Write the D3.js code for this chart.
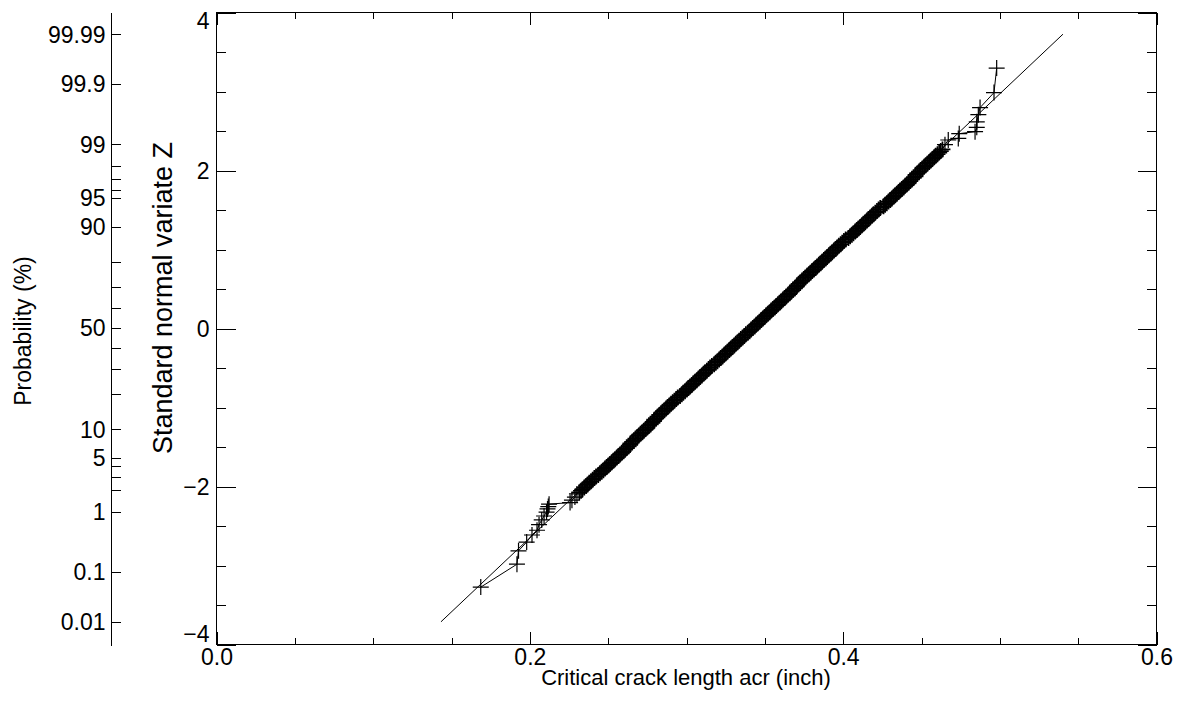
<!DOCTYPE html>
<html>
<head>
<meta charset="utf-8">
<script src="https://cdn.jsdelivr.net/npm/d3@7"></script>
<style>
    body { margin: 0; background: #fff; }
    svg text { font-family: "Liberation Sans", Arial, sans-serif; fill: #000; }
</style>
</head>
<body>
<svg id="chart" width="1188" height="704"></svg>
<script>

// data (z = standard normal variate, acr in inch)

const lowerTailZ   = [-3.28, -2.99, -2.82, -2.71, -2.62, -2.56, -2.49, -2.43, -2.38, -2.33, -2.29, -2.26, -2.23,
                      -2.21, -2.18, -2.14, -2.10];
const lowerTailAcr = [0.1690, 0.1921, 0.1931, 0.1983, 0.2017, 0.2049, 0.2062, 0.2079, 0.2094, 0.2110, 0.2116, 0.2121, 0.2126,
                      0.2260, 0.2272, 0.2291, 0.2304];

const bandZ = [
    -2.08, -2.06, -2.04, -2.02, -2.00, -1.98, -1.96, -1.94, -1.92, -1.90, -1.88, -1.86, -1.84, -1.82, -1.80, -1.78,
    -1.76, -1.74, -1.72, -1.70, -1.68, -1.66, -1.64, -1.62, -1.60, -1.58, -1.56, -1.54, -1.52, -1.50, -1.48, -1.46,
    -1.44, -1.42, -1.40, -1.38, -1.36, -1.34, -1.32, -1.30, -1.28, -1.26, -1.24, -1.22, -1.20, -1.18, -1.16, -1.14,
    -1.12, -1.10, -1.08, -1.06, -1.04, -1.02, -1.00, -0.98, -0.96, -0.94, -0.92, -0.90, -0.88, -0.86, -0.84, -0.82,
    -0.80, -0.78, -0.76, -0.74, -0.72, -0.70, -0.68, -0.66, -0.64, -0.62, -0.60, -0.58, -0.56, -0.54, -0.52, -0.50,
    -0.48, -0.46, -0.44, -0.42, -0.40, -0.38, -0.36, -0.34, -0.32, -0.30, -0.28, -0.26, -0.24, -0.22, -0.20, -0.18,
    -0.16, -0.14, -0.12, -0.10, -0.08, -0.06, -0.04, -0.02, 0.00, 0.02, 0.04, 0.06, 0.08, 0.10, 0.12, 0.14,
    0.16, 0.18, 0.20, 0.22, 0.24, 0.26, 0.28, 0.30, 0.32, 0.34, 0.36, 0.38, 0.40, 0.42, 0.44, 0.46,
    0.48, 0.50, 0.52, 0.54, 0.56, 0.58, 0.60, 0.62, 0.64, 0.66, 0.68, 0.70, 0.72, 0.74, 0.76, 0.78,
    0.80, 0.82, 0.84, 0.86, 0.88, 0.90, 0.92, 0.94, 0.96, 0.98, 1.00, 1.02, 1.04, 1.06, 1.08, 1.10,
    1.12, 1.14, 1.16, 1.18, 1.20, 1.22, 1.24, 1.26, 1.28, 1.30, 1.32, 1.34, 1.36, 1.38, 1.40, 1.42,
    1.44, 1.46, 1.48, 1.50, 1.52, 1.54, 1.56, 1.58, 1.60, 1.62, 1.64, 1.66, 1.68, 1.70, 1.72, 1.74,
    1.76, 1.78, 1.80, 1.82, 1.84, 1.86, 1.88, 1.90, 1.92, 1.94, 1.96, 1.98, 2.00, 2.02, 2.04, 2.06,
    2.08, 2.10, 2.12, 2.14, 2.16, 2.18, 2.20, 2.22, 2.24, 2.26
];
const bandAcr = [
    0.2319, 0.2330, 0.2340, 0.2351, 0.2362, 0.2372, 0.2383, 0.2394, 0.2404, 0.2415, 0.2426, 0.2440, 0.2451, 0.2462, 0.2473, 0.2483,
    0.2494, 0.2505, 0.2515, 0.2526, 0.2537, 0.2547, 0.2558, 0.2569, 0.2579, 0.2590, 0.2601, 0.2611, 0.2622, 0.2633, 0.2643, 0.2646,
    0.2657, 0.2667, 0.2678, 0.2689, 0.2699, 0.2710, 0.2721, 0.2731, 0.2742, 0.2753, 0.2763, 0.2774, 0.2785, 0.2795, 0.2798, 0.2809,
    0.2819, 0.2830, 0.2841, 0.2851, 0.2862, 0.2873, 0.2883, 0.2894, 0.2905, 0.2915, 0.2926, 0.2937, 0.2947, 0.2962, 0.2973, 0.2983,
    0.2994, 0.3005, 0.3015, 0.3026, 0.3037, 0.3047, 0.3058, 0.3069, 0.3080, 0.3090, 0.3101, 0.3112, 0.3122, 0.3133, 0.3144, 0.3154,
    0.3165, 0.3180, 0.3190, 0.3201, 0.3212, 0.3222, 0.3233, 0.3244, 0.3254, 0.3265, 0.3276, 0.3286, 0.3297, 0.3308, 0.3318, 0.3329,
    0.3340, 0.3350, 0.3361, 0.3372, 0.3382, 0.3395, 0.3406, 0.3416, 0.3427, 0.3438, 0.3448, 0.3459, 0.3470, 0.3480, 0.3491, 0.3502,
    0.3512, 0.3523, 0.3534, 0.3544, 0.3555, 0.3566, 0.3576, 0.3587, 0.3598, 0.3608, 0.3619, 0.3630, 0.3640, 0.3651, 0.3662, 0.3672,
    0.3683, 0.3694, 0.3704, 0.3709, 0.3720, 0.3730, 0.3741, 0.3752, 0.3762, 0.3773, 0.3784, 0.3795, 0.3805, 0.3816, 0.3827, 0.3837,
    0.3848, 0.3859, 0.3869, 0.3880, 0.3891, 0.3901, 0.3912, 0.3923, 0.3933, 0.3944, 0.3955, 0.3965, 0.3976, 0.3987, 0.3997, 0.4008,
    0.4019, 0.4037, 0.4048, 0.4059, 0.4069, 0.4080, 0.4091, 0.4101, 0.4112, 0.4123, 0.4133, 0.4144, 0.4155, 0.4165, 0.4176, 0.4187,
    0.4197, 0.4208, 0.4219, 0.4229, 0.4240, 0.4261, 0.4271, 0.4282, 0.4293, 0.4303, 0.4314, 0.4325, 0.4335, 0.4346, 0.4357, 0.4367,
    0.4378, 0.4389, 0.4399, 0.4410, 0.4421, 0.4431, 0.4442, 0.4453, 0.4464, 0.4466, 0.4477, 0.4488, 0.4498, 0.4509, 0.4520, 0.4530,
    0.4541, 0.4552, 0.4562, 0.4573, 0.4584, 0.4594, 0.4605, 0.4616, 0.4626, 0.4637
];

const upperTailZ   = [2.32, 2.38, 2.40, 2.46, 2.485, 2.54, 2.61, 2.70, 2.79, 2.98, 3.29];
const upperTailAcr = [0.4653, 0.4674, 0.4738, 0.4744, 0.4845, 0.4856, 0.4856, 0.4866, 0.4877, 0.4966, 0.4983];

// fitted normal line (0.01 % .. 99.99 %)
const fitZ   = [-3.719, 3.719];
const fitAcr = [0.1436, 0.5406];

// tick labels
const xMajorTicks = [0.0, 0.2, 0.4, 0.6];
const xTickLabels = ["0.0", "0.2", "0.4", "0.6"];
const zMajorTicks = [-4, -2, 0, 2, 4];
const zTickLabels = ["\u22124", "\u22122", "0", "2", "4"];
const probTicks   = [0.01, 0.1, 1, 2, 3, 4, 5, 10, 20, 30, 40, 50, 60, 70, 80, 90, 95, 96, 97, 98, 99, 99.9, 99.99];
const probLabels  = ["0.01", "0.1", "1", "", "", "", "5", "10", "", "", "", "50", "", "", "", "90", "95", "", "", "", "99", "99.9", "99.99"];

// layout

const plot = { left: 216, right: 1156, top: 12, bottom: 644 };
const probAxisX = 111;
const tickFont = 23;

let svg = d3.select("#chart");

let xScale = d3.scaleLinear()
               .domain([0, 0.6])
               .range([plot.left, plot.right]);
let zScale = d3.scaleLinear()
               .domain([-4, 4])
               .range([plot.bottom, plot.top]);

// inverse normal cdf (Acklam) for the probability axis
function probit(p) {
    const a = [-3.969683028665376e+01, 2.209460984245205e+02, -2.759285104469687e+02,
               1.383577518672690e+02, -3.066479806614716e+01, 2.506628277459239e+00];
    const b = [-5.447609879822406e+01, 1.615858368580409e+02, -1.556989798598866e+02,
               6.680131188771972e+01, -1.328068155288572e+01];
    const c = [-7.784894002430293e-03, -3.223964580411365e-01, -2.400758277161838e+00,
               -2.549732539343734e+00, 4.374664141464968e+00, 2.938163982698783e+00];
    const d = [7.784695709041462e-03, 3.224671290700398e-01, 2.445134137142996e+00,
               3.754408661907416e+00];
    let q, r;
    if (p < 0.02425) {
        q = Math.sqrt(-2 * Math.log(p));
        return (((((c[0]*q + c[1])*q + c[2])*q + c[3])*q + c[4])*q + c[5]) /
               ((((d[0]*q + d[1])*q + d[2])*q + d[3])*q + 1);
    }
    if (p > 1 - 0.02425) {
        q = Math.sqrt(-2 * Math.log(1 - p));
        return -(((((c[0]*q + c[1])*q + c[2])*q + c[3])*q + c[4])*q + c[5]) /
                ((((d[0]*q + d[1])*q + d[2])*q + d[3])*q + 1);
    }
    q = p - 0.5;
    r = q * q;
    return (((((a[0]*r + a[1])*r + a[2])*r + a[3])*r + a[4])*r + a[5]) * q /
           (((((b[0]*r + b[1])*r + b[2])*r + b[3])*r + b[4])*r + 1);
}

function range(start, stop, step) {
    return d3.range(Math.round((stop - start) / step) + 1).map(i => +(start + i * step).toFixed(4));
}

// frame and axes

function drawFrame() {
    svg.append("rect")
       .attr("x", plot.left + 0.5)
       .attr("y", plot.top + 0.5)
       .attr("width", plot.right - plot.left)
       .attr("height", plot.bottom - plot.top)
       .style("fill", "none")
       .style("stroke", "#000")
       .style("stroke-width", 1);
}

function styleAxis(g) {
    g.select(".domain").remove();
    g.selectAll("line").style("stroke", "#000").attr("shape-rendering", "crispEdges");
    g.selectAll("text").style("font-size", tickFont + "px");
}

function drawAxes() {
    let xMinor = range(0, 0.6, 0.05).filter(v => !xMajorTicks.some(t => Math.abs(t - v) < 1e-9));
    let zMinor = range(-4, 4, 0.5).filter(v => !zMajorTicks.includes(v));

    // bottom
    svg.append("g")
       .attr("transform", `translate(0.5,${plot.bottom + 0.5})`)
       .call(d3.axisBottom(xScale).tickValues(xMajorTicks).tickSize(-12.6).tickPadding(4)
               .tickFormat((d, i) => xTickLabels[i]))
       .call(styleAxis);
    svg.append("g")
       .attr("transform", `translate(0.5,${plot.bottom + 0.5})`)
       .call(d3.axisBottom(xScale).tickValues(xMinor).tickSize(-6.3).tickFormat(""))
       .call(styleAxis);

    // top
    svg.append("g")
       .attr("transform", `translate(0.5,${plot.top + 0.5})`)
       .call(d3.axisTop(xScale).tickValues(xMajorTicks).tickSize(-12.6).tickFormat(""))
       .call(styleAxis);
    svg.append("g")
       .attr("transform", `translate(0.5,${plot.top + 0.5})`)
       .call(d3.axisTop(xScale).tickValues(xMinor).tickSize(-6.3).tickFormat(""))
       .call(styleAxis);

    // left
    let leftAxis = svg.append("g")
       .attr("transform", `translate(${plot.left + 0.5},0.5)`)
       .call(d3.axisLeft(zScale).tickValues(zMajorTicks).tickSize(-19).tickPadding(7)
               .tickFormat((d, i) => zTickLabels[i]))
       .call(styleAxis);
    // end labels are kept inside the frame
    leftAxis.selectAll(".tick text")
            .attr("dy", d => d === 4 ? "0.70em" : d === -4 ? "-0.14em" : "0.34em");
    svg.append("g")
       .attr("transform", `translate(${plot.left + 0.5},0.5)`)
       .call(d3.axisLeft(zScale).tickValues(zMinor).tickSize(-9.5).tickFormat(""))
       .call(styleAxis);

    // right
    svg.append("g")
       .attr("transform", `translate(${plot.right + 0.5},0.5)`)
       .call(d3.axisRight(zScale).tickValues(zMajorTicks).tickSize(-19).tickFormat(""))
       .call(styleAxis);
    svg.append("g")
       .attr("transform", `translate(${plot.right + 0.5},0.5)`)
       .call(d3.axisRight(zScale).tickValues(zMinor).tickSize(-9.5).tickFormat(""))
       .call(styleAxis);
}

function drawProbabilityAxis() {
    let g = svg.append("g")
               .attr("transform", `translate(${probAxisX + 0.5},0.5)`);

    g.append("line")
     .attr("y1", plot.top)
     .attr("y2", plot.bottom + 1)
     .style("stroke", "#000")
     .attr("shape-rendering", "crispEdges");

    let ticks = g.selectAll(".ptick")
                 .data(probTicks)
                 .join("g")
                 .attr("transform", p => `translate(0,${zScale(probit(p / 100))})`);

    ticks.append("line")
         .attr("x2", 9)
         .style("stroke", "#000")
         .attr("shape-rendering", "crispEdges");

    ticks.append("text")
         .attr("x", -6)
         .attr("dy", "0.34em")
         .attr("text-anchor", "end")
         .style("font-size", tickFont + "px")
         .text((p, i) => probLabels[i]);
}

function drawTitles() {
    svg.append("text")
       .attr("x", (plot.left + plot.right) / 2)
       .attr("y", 685)
       .attr("text-anchor", "middle")
       .style("font-size", "22px")
       .text("Critical crack length acr (inch)");

    svg.append("text")
       .attr("transform", "translate(172,298) rotate(-90)")
       .attr("text-anchor", "middle")
       .style("font-size", "27px")
       .text("Standard normal variate Z");

    svg.append("text")
       .attr("transform", "translate(31,331) rotate(-90)")
       .attr("text-anchor", "middle")
       .style("font-size", "23px")
       .text("Probability (%)");
}

// data marks

function drawData() {
    let tails = [];
    let band = [];
    lowerTailZ.forEach((z, i) => tails.push({ z: z, acr: lowerTailAcr[i] }));
    bandZ.forEach((z, i) => band.push({ z: z, acr: bandAcr[i] }));
    let upper = upperTailZ.map((z, i) => ({ z: z, acr: upperTailAcr[i] }));
    let points = tails.concat(band, upper);
    tails = tails.concat(upper);

    let line = d3.line()
                 .x(d => xScale(d.acr))
                 .y(d => zScale(d.z));

    // fitted line
    svg.append("path")
       .datum(fitZ.map((z, i) => ({ z: z, acr: fitAcr[i] })))
       .attr("d", line)
       .style("fill", "none")
       .style("stroke", "#000")
       .style("stroke-width", 1);

    // sample connected in order
    svg.append("path")
       .datum(points)
       .attr("d", line)
       .style("fill", "none")
       .style("stroke", "#000")
       .style("stroke-width", 1);

    // dense middle of the sample; symbols there merge into a solid band
    svg.append("g")
       .selectAll("path")
       .data(band)
       .join("path")
       .attr("transform", d => `translate(${xScale(d.acr)},${zScale(d.z)})`)
       .attr("d", "M-8,0H8M0,-8V8")
       .style("fill", "none")
       .style("stroke", "#000")
       .style("stroke-width", 1.7);

    svg.append("g")
       .selectAll("path")
       .data(tails)
       .join("path")
       .attr("transform", d => `translate(${xScale(d.acr)},${zScale(d.z)})`)
       .attr("d", "M-8,0H8M0,-8V8")
       .style("fill", "none")
       .style("stroke", "#000")
       .style("stroke-width", 1.2);
}

drawFrame();
drawAxes();
drawProbabilityAxis();
drawData();
drawTitles();

</script>
</body>
</html>
